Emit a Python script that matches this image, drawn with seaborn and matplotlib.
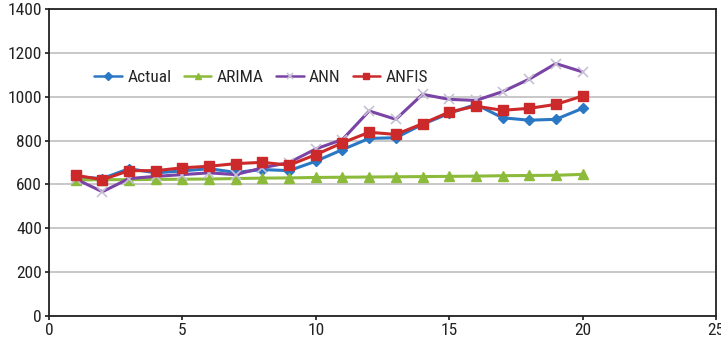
import matplotlib
matplotlib.use("Agg")
import matplotlib.pyplot as plt
import seaborn as sns
import pandas as pd
from matplotlib import font_manager

# Observation index
periods = list(range(1, 21))

# Series values
actual = [635, 627, 672, 653, 662, 672, 655, 668, 663, 706, 759, 810, 813, 874, 924, 965, 904, 893, 897, 947]
arima = [620, 622, 622, 623, 624, 625, 627, 629, 630, 632, 633, 634, 635, 636, 637, 638, 640, 641, 642, 646]
ann = [625, 567, 627, 637, 645, 653, 645, 676, 700, 762, 805, 935, 897, 1011, 988, 983, 1023, 1080, 1151, 1113]
anfis = [642, 622, 663, 663, 676, 683, 695, 701, 688, 736, 790, 838, 828, 877, 930, 957, 938, 947, 965, 1003]

series_names = ["Actual", "ARIMA", "ANN", "ANFIS"]
xticks = [0, 5, 10, 15, 20, 25]
yticks = [0, 200, 400, 600, 800, 1000, 1200, 1400]

df = pd.DataFrame({
    "period": periods * 4,
    "value": actual + arima + ann + anfis,
    "model": sum([[n] * len(periods) for n in series_names], []),
})

sns.set_theme(style="white")
installed = {f.name for f in font_manager.fontManager.ttflist}
family = [f for f in ["Liberation Sans Narrow", "Roboto Condensed", "Liberation Sans", "DejaVu Sans"] if f in installed]
plt.rcParams["font.family"] = family

fig = plt.figure(figsize=(7.21, 3.44), dpi=100)
ax = fig.add_axes([0.068, 0.081, 0.925, 0.893])

styles = {
    "Actual": dict(color="#2a77c4", marker="D", markersize=5, mec="#2a77c4"),
    "ARIMA": dict(color="#8cbb3c", marker="^", markersize=7, mec="#8cbb3c"),
    "ANN": dict(color="#7a44a6", marker="x", markersize=7, mec="#c8c0d6", mew=1.2),
    "ANFIS": dict(color="#cc2a2a", marker="s", markersize=7, mec="#cc2a2a"),
}

for name in series_names:
    st = styles[name]
    sns.lineplot(data=df[df["model"] == name], x="period", y="value", ax=ax,
                 label=name, color=st["color"], marker=st["marker"],
                 markersize=st["markersize"], markeredgecolor=st["mec"],
                 markeredgewidth=st.get("mew", 1.0), linewidth=2.2)

ax.set_xlim(0, 25)
ax.set_ylim(0, 1400)
ax.set_xticks(xticks)
ax.set_yticks(yticks)
ax.set_xlabel("")
ax.set_ylabel("")
ax.yaxis.grid(True, color="#bfbfbf", linewidth=1.2)
ax.set_axisbelow(True)
for sp in ax.spines.values():
    sp.set_color("#222222")
    sp.set_linewidth(1.3)
ax.tick_params(axis="both", labelsize=12.5, colors="#222222", length=3, direction="out",
               bottom=True, left=True, pad=2)

leg = ax.legend(loc="center left", bbox_to_anchor=(0.068, 0.777), ncol=4, frameon=False,
                fontsize=12.5, handlelength=1.6, columnspacing=0.7, handletextpad=0.3,
                borderaxespad=0, borderpad=0)
for h in leg.legend_handles:
    h.set_markersize(4)
    h.set_linewidth(1.8)

fig.savefig("out.png", dpi=100)
